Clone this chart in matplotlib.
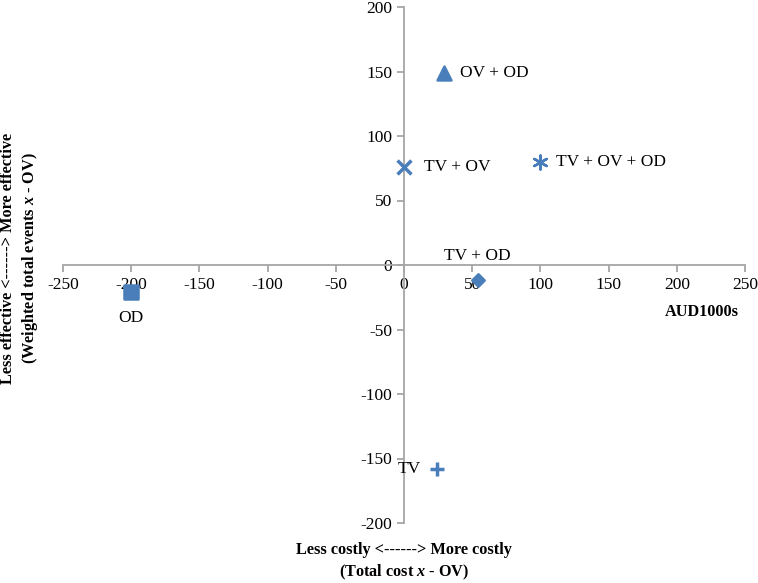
import matplotlib
matplotlib.use("Agg")
import matplotlib.pyplot as plt

plt.rcParams['font.family'] = ['Liberation Serif', 'DejaVu Serif']
plt.rcParams['axes.unicode_minus'] = False
plt.rcParams['mathtext.fontset'] = 'custom'
plt.rcParams['mathtext.rm'] = 'Liberation Serif:bold'
plt.rcParams['mathtext.it'] = 'Liberation Serif:bold:italic'
plt.rcParams['mathtext.bf'] = 'Liberation Serif:bold'

labels = ["OV + OD", "TV + OV", "TV + OV + OD", "TV + OD", "OD", "TV"]
cost = [29, 0, 100, 54, -200, 24]
effect = [149, 76, 80, -12, -21, -158]
markers = ["^", "x", (6, 2, 0), "D", "s", "+"]
sizes = [100, 100, 100, 40, 100, 100]
x_ticks = [-250, -200, -150, -100, -50, 0, 50, 100, 150, 200, 250]
y_ticks = [-200, -150, -100, -50, 0, 50, 100, 150, 200]

# label offsets in pixels and alignment
offsets = [(16, 0, 'left', 'center'), (20, 0, 'left', 'center'),
           (16, 0, 'left', 'center'), (0, 16, 'center', 'bottom'),
           (0, -18, 'center', 'top'), (-16, 0, 'right', 'center')]

fig = plt.figure(figsize=(7.58, 5.83), dpi=100)
ax = fig.add_axes([63/758, 1-523/583, 682/758, 516/583])

blue = '#4a7ebb'
for xv, yv, m, s in zip(cost, effect, markers, sizes):
    lw = 2.5 if m in ("x", "+") else 1.8
    ax.scatter([xv], [yv], marker=m, s=s, color=blue, linewidths=lw, zorder=3)

for lab, xv, yv, (dx, dy, ha, va) in zip(labels, cost, effect, offsets):
    ax.annotate(lab, (xv, yv), xytext=(dx, dy), textcoords='offset pixels',
                ha=ha, va=va, fontsize=12.5, color='black')

ax.set_xlim(-250, 250)
ax.set_ylim(-200, 200)
ax.set_xticks(x_ticks)
ax.set_yticks(y_ticks)
for sp in ['top', 'right']:
    ax.spines[sp].set_visible(False)
ax.spines['left'].set_position(('data', 0))
ax.spines['bottom'].set_position(('data', 0))
for sp in ['left', 'bottom']:
    ax.spines[sp].set_color('#a6a6a6')
    ax.spines[sp].set_linewidth(1.3)
ax.tick_params(axis='both', colors='#a6a6a6', labelcolor='black', labelsize=12.5,
               direction='out', length=5, width=1.3)
ax.patch.set_alpha(0)

fig.text(702/758, 1-312/583, "AUD1000s", ha='center', va='center',
         fontsize=11.7, fontweight='bold')
fig.text(404/758, 1-562/583, "Less costly <------> More costly\n(Total cost $x$ - OV)",
         ha='center', va='center', fontsize=11.7, fontweight='bold', linespacing=1.3)
fig.text(20/758, 1-258/583, "Less effective <------> More effective\n(Weighted total events $x$ - OV)",
         ha='center', va='center', fontsize=11.7, fontweight='bold', rotation=90,
         linespacing=1.3)

fig.savefig("out.png", dpi=100)
